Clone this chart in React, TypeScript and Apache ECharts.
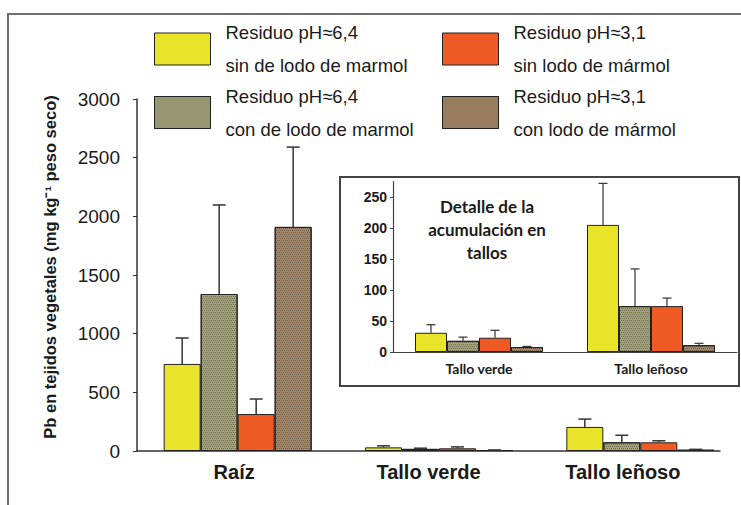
import React, { useEffect, useRef } from "react";
import * as echarts from "echarts";

const categories = ["Raíz", "Tallo verde", "Tallo leñoso"];
const insetCategories = ["Tallo verde", "Tallo leñoso"];

const seriesNames = [
  "Residuo pH≈6,4\nsin de lodo de marmol",
  "Residuo pH≈6,4\ncon de lodo de marmol",
  "Residuo pH≈3,1\nsin lodo de mármol",
  "Residuo pH≈3,1\ncon lodo de mármol",
];

// values (mg kg-1), order: Raíz, Tallo verde, Tallo leñoso
const yellowVals = [742, 31, 205];
const greenVals = [1338, 18, 74];
const orangeVals = [315, 23, 74];
const brownVals = [1910, 8, 11];

// upper error amounts
const yellowErr = [221, 13, 67];
const greenErr = [759, 6, 60];
const orangeErr = [128, 12, 13];
const brownErr = [680, 1, 3];

const mainTicks = { min: 0, max: 3000, interval: 500 };
const insetTicks = { min: 0, max: 275, interval: 50 };

const FONT = "'Liberation Sans', Arial, sans-serif";
const INK = "#1a1a1a";

const dots = {
  symbol: "rect",
  symbolSize: 1,
  dashArrayX: [
    [1, 1],
    [0, 1, 1, 0],
  ],
  dashArrayY: [1, 1],
  color: "rgba(35,35,15,0.42)",
};

const seriesStyles = [
  { color: "#E9E32A", borderColor: "#222", borderWidth: 1 },
  { color: "#A3A37E", borderColor: "#222", borderWidth: 1, decal: dots },
  { color: "#EE5A24", borderColor: "#222", borderWidth: 1 },
  { color: "#A4866A", borderColor: "#222", borderWidth: 1, decal: dots },
];

const allVals = [yellowVals, greenVals, orangeVals, brownVals];
const allErrs = [yellowErr, greenErr, orangeErr, brownErr];

function errorSeries(
  idx: number,
  xAxisIndex: number,
  yAxisIndex: number,
  vals: number[],
  errs: number[],
  barW: number,
  cap: number,
  lw: number
) {
  return {
    type: "custom",
    name: "err" + xAxisIndex + "_" + idx,
    xAxisIndex,
    yAxisIndex,
    z: 3,
    clip: false,
    encode: { x: 0, y: [1, 2] },
    data: vals.map((v, i) => [i, v, v + errs[i]]),
    renderItem: (params: any, api: any) => {
      const x = api.value(0);
      const lo = api.value(1);
      const hi = api.value(2);
      const p0 = api.coord([x, lo]);
      const p1 = api.coord([x, hi]);
      const cx = p0[0] + (idx - 1.5) * barW;
      const st = { stroke: "#333", lineWidth: lw };
      return {
        type: "group",
        children: [
          { type: "line", shape: { x1: cx, y1: p0[1], x2: cx, y2: p1[1] }, style: st },
          {
            type: "line",
            shape: { x1: cx - cap / 2, y1: p1[1], x2: cx + cap / 2, y2: p1[1] },
            style: st,
          },
        ],
      };
    },
  };
}

export default function App() {
  const ref = useRef<HTMLDivElement>(null);

  useEffect(() => {
    document.body.style.margin = "0";
    const chart = echarts.init(ref.current!, null, { renderer: "svg" });

    const legendBase = {
      orient: "horizontal",
      icon: "rect",
      itemWidth: 56,
      itemHeight: 32,
      padding: 0,
      selectedMode: false,
      itemStyle: { borderColor: "#222", borderWidth: 1 },
      textStyle: {
        fontFamily: FONT,
        fontSize: 18.5,
        lineHeight: 33,
        color: INK,
        padding: [5, 0, 0, 10],
      },
    };

    const mainBars = allVals.map((vals, i) => ({
      type: "bar",
      name: seriesNames[i],
      xAxisIndex: 1,
      yAxisIndex: 1,
      barWidth: 37,
      barGap: "0%",
      itemStyle: seriesStyles[i],
      data: vals,
    }));

    const insetBars = allVals.map((vals, i) => ({
      type: "bar",
      name: seriesNames[i],
      xAxisIndex: 2,
      yAxisIndex: 2,
      barWidth: 32,
      barGap: "0%",
      itemStyle: seriesStyles[i],
      data: vals.slice(1),
    }));

    const mainErr = allVals.map((vals, i) =>
      errorSeries(i, 1, 1, vals, allErrs[i], 37, 13, 1.5)
    );
    const insetErr = allVals.map((vals, i) =>
      errorSeries(i, 2, 2, vals.slice(1), allErrs[i].slice(1), 32, 9, 1.2)
    );

    const option: any = {
      animation: false,
      backgroundColor: "#ffffff",
      legend: [
        { ...legendBase, data: [seriesNames[0]], left: 154, top: 13.5 },
        { ...legendBase, data: [seriesNames[2]], left: 442, top: 13.5 },
        { ...legendBase, data: [seriesNames[1]], left: 154, top: 77 },
        { ...legendBase, data: [seriesNames[3]], left: 442, top: 77 },
      ],
      grid: [
        { left: 137, top: 99, width: 583, height: 352 },
        { left: 137, top: 99, width: 610.5, height: 352 },
        { left: 393, top: 181.5, width: 344, height: 170.5 },
      ],
      xAxis: [
        {
          type: "category",
          gridIndex: 0,
          data: categories,
          axisLine: { lineStyle: { color: "#333", width: 1.5 } },
          axisTick: { show: false },
          axisLabel: {
            margin: 11,
            fontFamily: FONT,
            fontSize: 20,
            fontWeight: "bold",
            color: INK,
          },
        },
        { type: "category", gridIndex: 1, data: categories, show: false },
        {
          type: "category",
          gridIndex: 2,
          data: insetCategories,
          axisLine: { lineStyle: { color: "#444", width: 1.2 } },
          axisTick: { show: false },
          axisLabel: {
            margin: 9,
            fontFamily: "Lato, 'Open Sans', sans-serif",
            fontSize: 14,
            fontWeight: "bold",
            color: INK,
          },
        },
      ],
      yAxis: [
        {
          type: "value",
          gridIndex: 0,
          ...mainTicks,
          splitLine: { show: false },
          axisLine: { show: true, lineStyle: { color: "#333", width: 1.5 } },
          axisTick: { show: true, length: 4, lineStyle: { color: "#333" } },
          axisLabel: {
            margin: 17,
            fontFamily: FONT,
            fontSize: 19,
            color: INK,
            formatter: (v: number) => String(v),
          },
        },
        { type: "value", gridIndex: 1, ...mainTicks, show: false },
        {
          type: "value",
          gridIndex: 2,
          ...insetTicks,
          splitLine: { show: false },
          axisLine: { show: true, lineStyle: { color: "#444", width: 1.2 } },
          axisTick: { show: true, length: 3, lineStyle: { color: "#444" } },
          axisLabel: {
            margin: 6,
            showMaxLabel: false,
            fontFamily: FONT,
            fontSize: 14,
            fontWeight: "bold",
            color: INK,
            formatter: (v: number) => String(v),
          },
        },
      ],
      graphic: [
        {
          type: "rect",
          z: -10,
          shape: { x: 8, y: 14, width: 760, height: 520 },
          style: { fill: "none", stroke: "#6e6e6e", lineWidth: 2 },
        },
        {
          type: "rect",
          z: -10,
          shape: { x: 340, y: 177, width: 399, height: 209 },
          style: { fill: "none", stroke: "#444", lineWidth: 2 },
        },
        {
          type: "text",
          x: 50,
          y: 267,
          rotation: Math.PI / 2,
          style: {
            text: "Pb en tejidos vegetales (mg kg⁻¹ peso seco)",
            fontFamily: FONT,
            fontSize: 16.5,
            fontWeight: "bold",
            fill: INK,
            align: "center",
            verticalAlign: "middle",
          },
        },
        {
          type: "text",
          x: 487,
          y: 229,
          style: {
            text: "Detalle de la\nacumulación en\ntallos",
            fontFamily: "Lato, 'Open Sans', sans-serif",
            fontSize: 17,
            fontWeight: "bold",
            lineHeight: 23,
            fill: INK,
            align: "center",
            verticalAlign: "middle",
          },
        },
      ],
      series: [...mainBars, ...mainErr, ...insetBars, ...insetErr],
    };

    chart.setOption(option);
    return () => chart.dispose();
  }, []);

  return <div ref={ref} style={{ width: 741, height: 505 }} />;
}
